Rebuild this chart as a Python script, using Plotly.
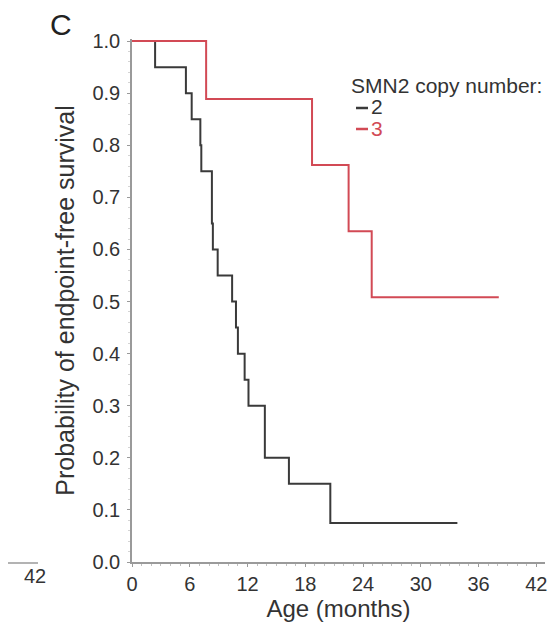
import plotly.graph_objects as go

# Kaplan-Meier estimates
months_2 = [0, 2.4, 5.6, 6.2, 7.1, 7.2, 8.3, 8.3, 8.4, 8.9, 10.4, 10.8, 11.0, 11.7, 12.1, 13.8, 13.8, 16.3, 20.6, 33.8]
surv_2 = [1.0, 0.95, 0.90, 0.85, 0.80, 0.75, 0.70, 0.65, 0.60, 0.55, 0.50, 0.45, 0.40, 0.35, 0.30, 0.25, 0.20, 0.15, 0.075, 0.075]

months_3 = [0, 7.7, 18.7, 22.5, 24.9, 38.1]
surv_3 = [1.0, 0.889, 0.762, 0.635, 0.508, 0.508]

x_ticks = [0, 6, 12, 18, 24, 30, 36, 42]
y_ticks = [0.0, 0.1, 0.2, 0.3, 0.4, 0.5, 0.6, 0.7, 0.8, 0.9, 1.0]

legend_title = "SMN2 copy number:"
legend_labels = ["2", "3"]

BLACK = "#3a3a3a"
RED = "#d24a55"
TXT = "#333333"
AXC = "#9a9a9a"
FONT = "Liberation Sans, Arial, sans-serif"

W, H = 555, 622
L, R, T, B = 132, 10, 39, 60
PW, PH = W - L - R, H - T - B


def px(x):
    return (x - L) / PW


def py(y):
    return (H - B - y) / PH


fig = go.Figure()
fig.add_trace(go.Scatter(x=months_2, y=surv_2, mode="lines", line=dict(color=BLACK, width=2, shape="hv"),
                         name=legend_labels[0], showlegend=False, hoverinfo="skip"))
fig.add_trace(go.Scatter(x=months_3, y=surv_3, mode="lines", line=dict(color=RED, width=2, shape="hv"),
                         name=legend_labels[1], showlegend=False, hoverinfo="skip"))

fig.update_layout(
    width=W, height=H,
    margin=dict(l=L, r=R, t=T, b=B, autoexpand=False),
    paper_bgcolor="white", plot_bgcolor="white",
    font=dict(family=FONT, color=TXT, size=20),
    xaxis=dict(range=[0, 42.9], tickvals=x_ticks, ticktext=[str(v) for v in x_ticks], automargin=False,
               showline=True, linecolor=AXC, linewidth=1.5, showgrid=False, zeroline=False,
               ticks="outside", ticklen=3, tickcolor=AXC, tickfont=dict(size=20, color=TXT),
               minor=dict(dtick=1, ticks="outside", ticklen=2, tickcolor="#c0c0c0"),
               title=dict(text="Age (months)", font=dict(size=24, color=TXT), standoff=0)),
    yaxis=dict(range=[0, 1.004], tickvals=y_ticks, ticktext=[f"{v:.1f}" for v in y_ticks], automargin=False,
               showline=True, linecolor=AXC, linewidth=1.5, showgrid=False, zeroline=False,
               ticks="outside", ticklen=3, tickcolor=AXC, tickfont=dict(size=20, color=TXT),
               ticklabelstandoff=3,
               minor=dict(dtick=0.02, ticks="outside", ticklen=2, tickcolor="#d4d4d4"),
               title=dict(text="Probability of endpoint-free survival", font=dict(size=25, color=TXT), standoff=11)),
)

ann = [
    dict(text="C", x=px(61), y=py(24), font=dict(size=30, color="#222222")),
    dict(text=legend_title, x=px(349), y=py(85), xanchor="left", font=dict(size=21, color=TXT)),
    dict(text=legend_labels[0], x=px(369), y=py(107), xanchor="left", font=dict(size=21, color=TXT)),
    dict(text=legend_labels[1], x=px(369), y=py(128), xanchor="left", font=dict(size=21, color=RED)),
    dict(text="42", x=px(35), y=py(576), font=dict(size=20, color=TXT)),
]
for a in ann:
    a.update(xref="paper", yref="paper", showarrow=False)
    a.setdefault("xanchor", "center")
    a.setdefault("yanchor", "middle")
fig.update_layout(annotations=ann)

# legend line keys
fig.add_shape(type="line", xref="paper", yref="paper", x0=px(356), x1=px(368), y0=py(108), y1=py(108),
              line=dict(color=BLACK, width=2.5))
fig.add_shape(type="line", xref="paper", yref="paper", x0=px(356), x1=px(368), y0=py(129), y1=py(129),
              line=dict(color=RED, width=2.5))
# stray axis fragment at lower left
fig.add_shape(type="line", xref="paper", yref="paper", x0=px(8), x1=px(38), y0=py(563), y1=py(563),
              line=dict(color=AXC, width=1.5))

fig.write_html("out.html", config={"displayModeBar": False},
               post_script="document.body.style.margin='0';document.body.style.overflow='hidden';")
